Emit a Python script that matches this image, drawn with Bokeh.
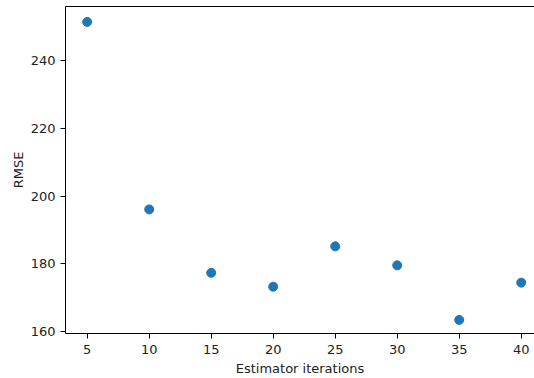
from bokeh.plotting import figure
from bokeh.models import Range1d, LinearAxis, FixedTicker
from bokeh.embed import file_html
from bokeh.resources import INLINE

iterations = [5, 10, 15, 20, 25, 30, 35, 40]
rmse = [251.4, 196.1, 177.4, 173.3, 185.2, 179.6, 163.5, 174.5]
x_ticks = [5, 10, 15, 20, 25, 30, 35, 40]
y_ticks = [160, 180, 200, 220, 240]

FONT = "DejaVu Sans"

p = figure(width=528, height=372, output_backend="svg", toolbar_location=None,
           x_range=Range1d(3.25, 41.07), y_range=Range1d(159.5, 255.95),
           min_border_left=59, min_border_right=0, min_border_top=0, min_border_bottom=44,
           x_axis_label="Estimator iterations", y_axis_label="RMSE")
p.styles = {"position": "absolute", "top": "6px", "left": "6px"}
p.grid.visible = False
p.outline_line_color = None
p.background_fill_color = "white"
p.border_fill_color = "white"

for ax in (p.xaxis[0], p.yaxis[0]):
    ax.axis_line_color = "black"
    ax.axis_line_width = 1
    ax.major_tick_line_color = "black"
    ax.major_tick_out = 5
    ax.major_tick_in = 0
    ax.minor_tick_line_color = None
    ax.major_label_text_font = FONT
    ax.major_label_text_font_size = "13px"
    ax.major_label_text_color = "#222222"
    ax.axis_label_text_font = FONT
    ax.axis_label_text_font_size = "13px"
    ax.axis_label_text_font_style = "normal"
    ax.axis_label_text_color = "#222222"

p.xaxis[0].ticker = FixedTicker(ticks=x_ticks)
p.yaxis[0].ticker = FixedTicker(ticks=y_ticks)
p.xaxis[0].major_label_standoff = 6
p.xaxis[0].axis_label_standoff = 4
p.yaxis[0].major_label_standoff = 5
p.yaxis[0].axis_label_standoff = 2

top = LinearAxis(major_label_text_font_size="0px", major_tick_line_color=None,
                 minor_tick_line_color=None, axis_line_color="black", axis_line_width=1)
top.ticker = FixedTicker(ticks=[])
p.add_layout(top, "above")

p.scatter(iterations, rmse, size=9, color="#1f77b4", line_color="#1f77b4")

open("out.html", "w").write(file_html(p, INLINE))
